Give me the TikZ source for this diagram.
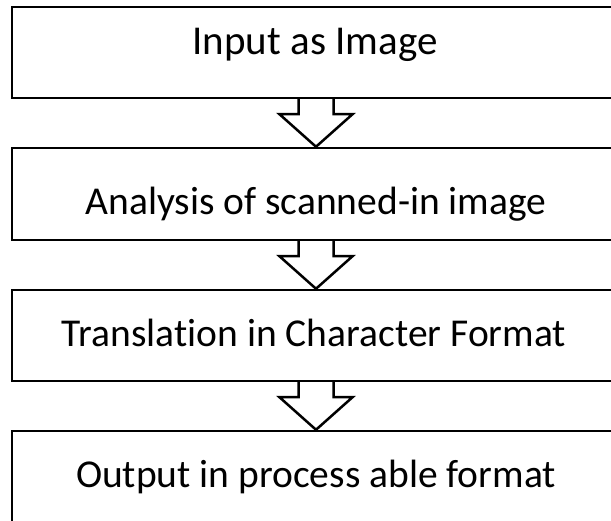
\documentclass[tikz,border=0pt]{standalone}
\usepackage{fontspec}
\setmainfont[Ligatures=NoCommon]{Carlito}
\usetikzlibrary{calc}

\tikzset{
  stagebox/.style={draw=black, line width=2.5pt, fill=white, rectangle,
    minimum width=608pt, inner sep=0pt, line join=miter},
  stagetext/.style={anchor=base, inner sep=0pt, text=black},
  flowline/.style={draw=black, line width=2.5pt, line join=miter, line cap=butt},
}

% hollow block arrow from the bottom edge of #1 to the top edge of #2
\newcommand\blockarrow[2]{%
  \path let \p1=(#1.south), \p2=(#2.north) in
    [fill=white] ({\x1-17.5pt},\y1) -- ({\x1-17.5pt},{\y1-15pt})
      -- ({\x1-36.5pt},{\y1-15pt}) -- (\x2,\y2)
      -- ({\x1+36.5pt},{\y1-15pt}) -- ({\x1+17.5pt},{\y1-15pt})
      -- ({\x1+17.5pt},\y1) -- cycle;
  \path let \p1=(#1.south), \p2=(#2.north) in
    [flowline] ({\x1-17.5pt},\y1) -- ({\x1-17.5pt},{\y1-15pt})
      -- ({\x1-36.5pt},{\y1-15pt}) -- (\x2,\y2)
      -- ({\x1+36.5pt},{\y1-15pt}) -- ({\x1+17.5pt},{\y1-15pt})
      -- ({\x1+17.5pt},\y1);
}

\begin{document}
\begin{tikzpicture}[x=1pt, y=-1pt]
  \useasboundingbox (0,0) rectangle (611,521);
  \clip (0,0) rectangle (611,521);

  % the four stages
  \node[stagebox, minimum height=91pt] (b1) at (316,52.5) {};
  \node[stagebox, minimum height=92pt] (b2) at (316,194) {};
  \node[stagebox, minimum height=91pt] (b3) at (316,335.5) {};
  \node[stagebox, minimum height=96pt] (b4) at (316,479) {};

  \node[stagetext, font=\fontsize{41}{50}\selectfont] (t1) at (315,55) {Input as Image};
  \node[stagetext, font=\fontsize{39.5}{48}\selectfont] (t2) at (316,215) {Analysis of scanned-in image};
  \node[stagetext, font=\fontsize{39.5}{48}\selectfont] (t3) at (314,347) {Translation in Character Format};
  \node[stagetext, font=\fontsize{39.5}{48}\selectfont] (t4) at (316,487) {Output in process able format};

  % arrows between stages
  \blockarrow{b1}{b2}
  \blockarrow{b2}{b3}
  \blockarrow{b3}{b4}
\end{tikzpicture}
\end{document}
